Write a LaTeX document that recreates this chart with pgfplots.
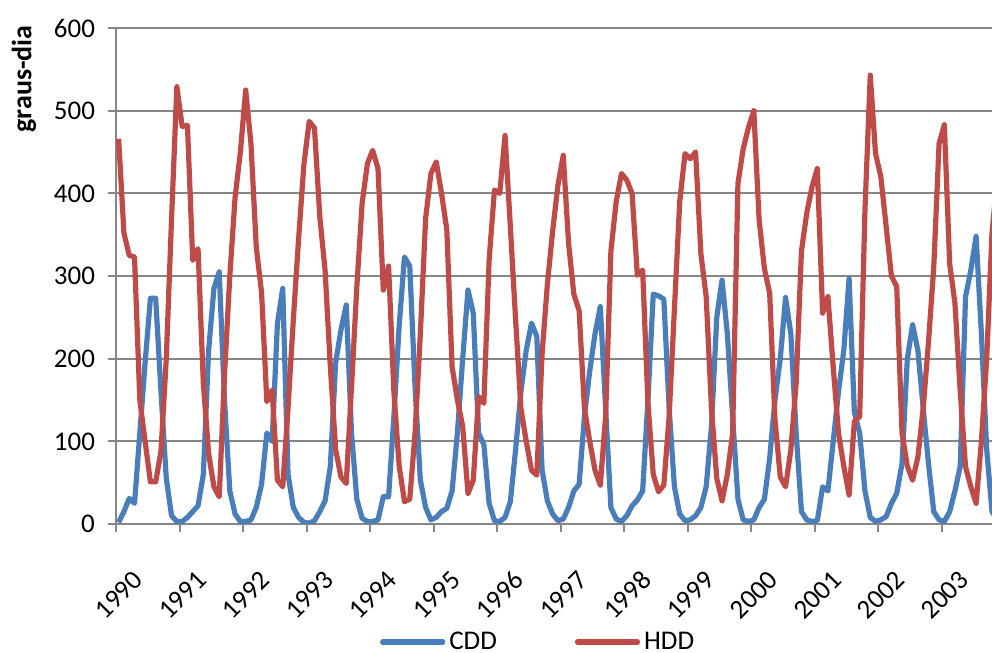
\documentclass[border=0pt]{standalone}
\usepackage{pgfplots}
\pgfplotsset{compat=1.18}
\usepackage{pgfplotstable}
\usepackage{fontspec}
\setmainfont{Carlito}
\definecolor{cddblue}{HTML}{4A7EBB}
\definecolor{hddred}{HTML}{BE4B48}
\definecolor{gridgray}{HTML}{868686}
\pgfplotstableread{
m cdd hdd
0 2 466
1 15 352
2 31 325
3 25 323
4 110 150
5 195 100
6 273 51
7 273 51
8 160 88
9 55 200
10 10 370
11 3 529
12 3 481
13 8 482
14 15 319
15 22 333
16 60 170
17 210 85
18 285 45
19 305 33
20 150 180
21 40 300
22 12 395
23 3 450
24 3 525
25 5 460
26 20 335
27 48 280
28 110 148
29 100 162
30 243 53
31 285 45
32 60 140
33 20 247
34 8 345
35 2 435
36 1 487
37 4 479
38 15 372
39 28 307
40 70 190
41 195 90
42 235 57
43 265 49
44 110 166
45 30 287
46 7 388
47 3 436
48 3 452
49 5 430
50 33 283
51 33 312
52 130 160
53 240 70
54 323 27
55 312 30
56 165 110
57 53 230
58 20 370
59 5 424
60 8 438
61 15 400
62 19 356
63 40 190
64 110 150
65 200 118
66 283 37
67 255 53
68 110 154
69 96 146
70 25 320
71 4 404
72 3 400
73 8 470
74 27 360
75 90 247
76 160 140
77 210 100
78 243 65
79 227 59
80 65 206
81 28 290
82 12 355
83 4 410
84 6 446
85 20 340
86 40 278
87 48 258
88 130 140
89 185 100
90 230 65
91 263 47
92 140 130
93 20 330
94 6 390
95 3 424
96 10 416
97 22 400
98 29 301
99 40 307
100 150 146
101 278 60
102 276 39
103 272 47
104 140 130
105 45 260
106 12 390
107 4 448
108 5 442
109 10 450
110 20 327
111 45 275
112 118 140
113 250 55
114 295 28
115 230 60
116 130 110
117 30 412
118 5 454
119 3 480
120 5 500
121 20 368
122 30 309
123 80 279
124 150 126
125 200 57
126 274 45
127 230 90
128 110 170
129 15 330
130 5 376
131 3 408
132 4 430
133 45 255
134 40 275
135 100 190
136 160 110
137 210 70
138 297 35
139 135 124
140 110 130
141 40 380
142 8 543
143 3 448
144 5 420
145 9 360
146 25 300
147 37 287
148 73 110
149 200 70
150 241 53
151 210 81
152 140 140
153 73 220
154 15 311
155 5 460
156 3 483
157 15 315
158 40 267
159 70 160
160 275 69
161 307 45
162 348 25
163 230 100
164 90 200
165 15 352
166 5 420
}\datatable
\begin{document}
\begin{tikzpicture}
\begin{axis}[
  scale only axis, width=438pt, height=248pt,
  xmin=-0.5, xmax=165.0, ymin=0, ymax=600,
  ytick={0,100,...,600},
  xtick={-0.5,11.5,...,155.5},
  xticklabels={1990,1991,1992,1993,1994,1995,1996,1997,1998,1999,2000,2001,2002,2003},
  axis x line*=bottom, axis y line*=left,
  axis line style={gridgray, line width=1pt, -},
  ymajorgrids, major grid style={gridgray, line width=1pt},
  tick align=outside, major tick length=4pt,
  tick style={gridgray, line width=1pt},
  tick label style={font=\fontsize{13.5}{16}\selectfont, text=black},
  /pgf/number format/assume math mode=true,
  xticklabel style={rotate=45, anchor=center, xshift=2pt},
  xticklabel shift=33pt,
  yticklabel shift=3pt,
  legend style={at={(0.483,-0.238)}, anchor=center, draw=none, fill=none,
    legend columns=2, font=\fontsize{13.5}{16}\selectfont,
    /tikz/every even column/.append style={column sep=37pt}},
  legend image code/.code={\draw[#1, line width=2.6pt, line cap=round] (0pt,0pt) -- (30pt,0pt);},
]
\addplot[cddblue, line width=2.6pt, line join=round, no markers] table[x=m, y=cdd] {\datatable};
\addlegendentry{CDD}
\addplot[hddred, line width=2.6pt, line join=round, no markers] table[x=m, y=hdd] {\datatable};
\addlegendentry{HDD}
\end{axis}
\node[rotate=90, anchor=east, inner sep=0pt, font=\bfseries\fontsize{14}{16}\selectfont] at ([xshift=-46pt,yshift=1.5pt]current axis.north west) {graus-dia};
\pgfresetboundingbox
\path ([shift={(-58pt,-64.5pt)}]current axis.south west) rectangle ([shift={(0pt,14pt)}]current axis.north east);
\end{tikzpicture}
\end{document}
